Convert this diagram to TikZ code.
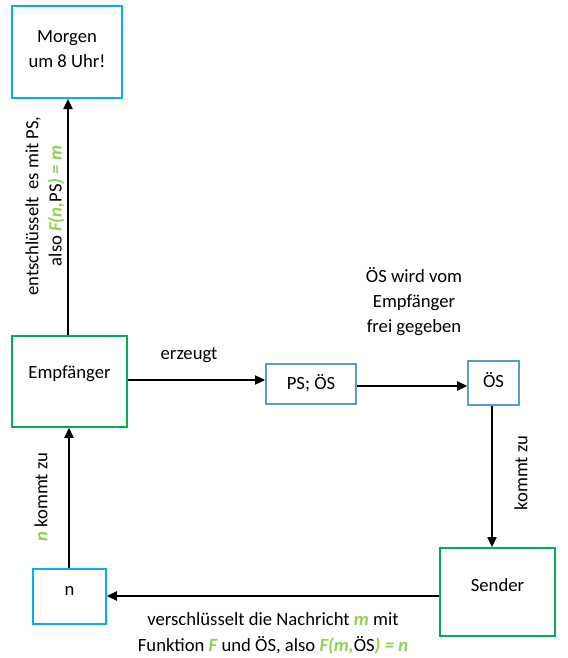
\documentclass[tikz,border=0pt]{standalone}
\usepackage{fontspec}
\setmainfont{Carlito}
\usetikzlibrary{arrows.meta}
\definecolor{cyanb}{HTML}{00B0F0}
\definecolor{midb}{HTML}{5B9BD5}
\definecolor{grn}{HTML}{00B050}
\definecolor{lgreen}{HTML}{92D050}
\newcommand{\gtx}[1]{\textcolor{lgreen}{\bfseries\itshape #1}}
\begin{document}
\begin{tikzpicture}[x=0.75pt,y=-0.75pt,
  font=\fontsize{14}{18.75}\selectfont,
  box/.style={draw,line width=1.5pt,inner sep=0pt},
  cbox/.style={box,draw=cyanb},
  bbox/.style={box,draw=midb},
  gbox/.style={box,draw=grn},
  arr/.style={draw,line width=0.9pt,-{Triangle[length=7.5pt,width=7pt]}},
  lbl/.style={align=center,inner sep=0pt}]
\useasboundingbox (0,0) rectangle (568,658);
\node[cbox,minimum width=82.5pt,minimum height=69pt] (morgen) at (67,52) {};
\node[gbox,minimum width=86pt,minimum height=68pt] (emp) at (69.5,381.5) {};
\node[bbox,minimum width=67.5pt,minimum height=30pt] (psos) at (311,384) {};
\node[bbox,minimum width=38pt,minimum height=33pt] (os) at (493.5,383) {};
\node[gbox,minimum width=86pt,minimum height=66pt] (sender) at (497.5,592) {};
\node[cbox,minimum width=54.5pt,minimum height=41pt] (n) at (69.5,596.5) {};

\node[lbl] (morgent) at ([yshift=2pt]morgen.center) {Morgen\\um 8 Uhr!};
\node[lbl] (empt) at ([yshift=5.5pt]emp.center) {Empfänger};
\node[lbl] (psost) at ([yshift=0.5pt]psos.center) {PS; ÖS};
\node[lbl] (ost) at ([yshift=2.5pt]os.center) {ÖS};
\node[lbl] (sendert) at ([yshift=5.5pt]sender.center) {Sender};
\node[lbl] (nt) at ([yshift=4.5pt]n.center) {n};

\draw[arr] (emp.north -| 68,0) -- (morgen.south -| 68,0);
\draw[arr] (emp.east |- 0,380) -- (psos.west |- 0,380);
\draw[arr] (psos.east |- 0,386) -- (os.west |- 0,386);
\draw[arr] (os.south -| 492,0) -- (sender.north -| 492,0);
\draw[arr] (sender.west |- 0,596) -- (n.east |- 0,596);
\draw[arr] (n.north -| 69,0) -- (emp.south -| 69,0);

\node[lbl,rotate=90,font=\fontsize{14}{17.5}\selectfont] (l1) at (45,206) {entschlüsselt\, es mit PS,\\also \gtx{F(n,}PS\gtx{) = m}};
\node[lbl] (l2) at (189,355) {erzeugt};
\node[lbl] (l3) at (414,302) {ÖS wird vom\\Empfänger\\frei gegeben};
\node[lbl,rotate=90] (l4) at (521,473) {kommt zu};
\node[lbl,rotate=90] (l5) at (41,497) {\gtx{n} kommt zu};
\node[lbl,font=\fontsize{14}{19.5}\selectfont] (l6) at (273,633) {verschlüsselt die Nachricht \gtx{m} mit\\Funktion \gtx{F} und ÖS, also \gtx{F(m,}ÖS\gtx{) = n}};
\end{tikzpicture}
\end{document}
